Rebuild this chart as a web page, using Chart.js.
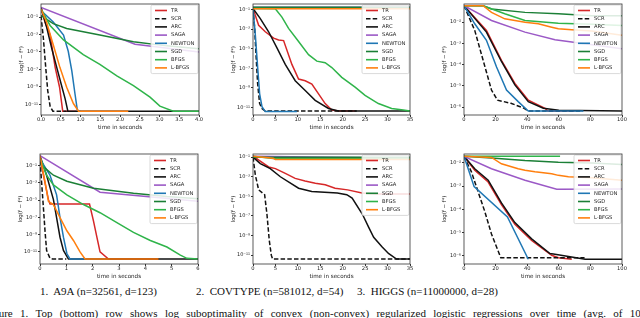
<!DOCTYPE html>
<html>
<head>
<meta charset="utf-8">
<script src="https://cdn.jsdelivr.net/npm/chart.js@4.4.1/dist/chart.umd.min.js"></script>
<style>
  html, body { margin: 0; padding: 0; background: #fff; width: 640px; height: 318px; overflow: hidden; position: relative; }
  canvas { position: absolute; }
  .cap { position: absolute; font-family: "Liberation Serif", "Times New Roman", serif; font-size: 11px; line-height: 11px; color: #111; white-space: nowrap; }
</style>
</head>
<body>
<div class="cap" style="left:40px;top:286px">1.&nbsp; A9A (n=32561, d=123)</div>
<div class="cap" style="left:196px;top:286px">2.&nbsp; COVTYPE (n=581012, d=54)</div>
<div class="cap" style="left:357px;top:286px">3.&nbsp; HIGGS (n=11000000, d=28)</div>
<div class="cap" style="left:-16px;top:308px;word-spacing:4.6px">Figure 1. Top (bottom) row shows log suboptimality of convex (non-convex) regularized logistic regressions over time (avg. of 10 runs).</div>

<script>
const methods = ['TR', 'SCR', 'ARC', 'SAGA', 'NEWTON', 'SGD', 'BFGS', 'L-BFGS'];
const colors = ['#d62728', '#111111', '#111111', '#9b59c6', '#1f77b4', '#1b7f36', '#2fb44a', '#ff7f0e'];
const titles = ['A9A convex', 'COVTYPE convex', 'HIGGS convex', 'A9A non-convex', 'COVTYPE non-convex', 'HIGGS non-convex'];

// [time in seconds, f - f*] pairs, one list per method (same order as methods)
const a9aConvex = [
  [[0,1.3],[0.1,0.028],[0.23,8.7e-4],[0.36,1.6e-7],[0.47,8.9e-10],[0.55,1.6e-12],[0.9,1.6e-12]],
  [[0,0.15],[0.06,3.7e-4],[0.12,1.6e-7],[0.17,3.7e-10],[0.23,6e-12],[0.3,1.6e-12],[0.65,1.6e-12]],
  [[0,1.3],[0.14,7.6e-3],[0.27,2.8e-5],[0.4,1.6e-7],[0.52,1.4e-9],[0.61,4.4e-11],[0.68,1.6e-12],[4,1.6e-12]],
  [[0,1.3],[2.38,7.8e-5],[4,9.8e-6]],
  [[0,0.56],[0.31,0.028],[0.57,8.7e-4],[0.69,1.2e-5],[0.78,6.6e-8],[0.86,1.6e-10],[0.92,2.1e-12],[1.0,1.6e-12]],
  [[0,0.15],[0.31,0.018],[0.65,4.9e-3],[1.49,8.7e-4],[2.34,1.5e-4],[3.18,5e-5],[4,2.3e-5]],
  [[0,0.87],[0.23,0.011],[0.57,2.4e-4],[1.07,4.9e-6],[1.49,3.7e-7],[1.92,1.8e-8],[2.34,1.4e-9],[2.76,6.6e-11],[3.01,6e-12],[3.35,1.6e-12],[4,1.6e-12]],
  [[0,0.87],[0.14,0.028],[0.31,6.6e-5],[0.48,1.6e-7],[0.65,8.9e-10],[0.82,1.2e-11],[0.95,1.6e-12],[2.21,1.6e-12]]
];
const covtypeConvex = [
  [[0,0.13],[1.26,2.5e-3],[2.74,5.4e-4],[4.6,1.2e-4],[5.71,7.9e-5],[6.82,6.8e-5],[8.67,2.5e-7],[10.16,7.9e-9],[11.64,5.4e-9],[13.12,2.5e-9],[16.09,2.5e-11],[17.57,5.4e-12],[19.05,4.3e-12],[22.76,4.3e-12]],
  [[0,0.13],[0.37,1.2e-3],[0.67,2.5e-6],[1.04,2.5e-9],[1.48,2.5e-11],[2.0,7.9e-12],[2.74,4.3e-12],[23.13,4.3e-12]],
  [[0,0.13],[1.63,0.012],[3.48,5.4e-4],[5.34,1.2e-5],[7.19,2.5e-7],[9.41,5.4e-9],[11.64,5.4e-10],[13.86,5.4e-11],[16.83,7.9e-12],[19.05,4.3e-12],[35,4.3e-12]],
  [[0,0.17],[35,0.17]],
  [[0,0.12],[0.52,2.5e-4],[1.04,1.2e-7],[1.48,2.5e-10],[2.0,1.2e-11],[2.74,3.8e-12],[9.79,3.8e-12]],
  [[0,0.17],[35,0.17]],
  [[0,0.13],[4.97,0.12],[6.45,0.017],[7.93,1.2e-3],[10.16,5.4e-5],[12.38,2.5e-6],[14.23,5.4e-7],[16.09,3.7e-7],[17.57,1.2e-7],[19.79,1.2e-8],[22.76,1.2e-9],[24.98,1.7e-10],[27.95,2.5e-11],[30.91,7.9e-12],[33.5,5.4e-12],[35,4.3e-12]],
  [[0,0.12],[35,0.12]]
];
const higgsConvex = [
  [[0,0.06],[14.2,4.1e-3],[23.7,1.6e-4],[32.2,1.3e-5],[40.7,2.1e-6],[51.3,8.7e-7],[53,6.5e-7],[70,6.5e-7]],
  [[0,0.06],[6.8,4.1e-3],[12.1,1.6e-4],[17.4,6.3e-6],[21.2,2.1e-6],[29.7,1.5e-6],[38.1,8.7e-7],[40.7,6.5e-7],[75,6.5e-7]],
  [[0,0.06],[14.2,3.4e-3],[23.7,1.4e-4],[32.2,1.1e-5],[40.7,1.8e-6],[50.2,8.7e-7],[60,7e-7],[100,6.5e-7]],
  [[0,0.06],[17.4,0.012],[38.6,3.4e-3],[57.6,1.5e-3],[100,5.6e-4]],
  [[0,0.06],[6.8,8.4e-3],[14.2,1.4e-3],[20.6,7.7e-5],[26.9,6.3e-6],[34.3,1.8e-6],[40.7,6.5e-7],[75.6,6.5e-7]],
  [[0,0.06],[12.1,0.06],[17.4,0.042],[38.6,0.029],[59.7,0.025],[80.9,0.02],[100,0.02]],
  [[0,0.06],[12.1,0.06],[25.8,0.025],[38.6,0.012],[59.7,9e-3],[80.9,8e-3],[100,7e-3]],
  [[0,0.06],[12.1,0.06],[17.4,0.029],[25.8,0.0144],[32.2,0.012],[38.6,0.01],[47,8.4e-3],[55.5,5.8e-3],[59.7,4.9e-3],[68.2,4.4e-3],[80.9,3.8e-3],[100,2.4e-3]]
];
const a9aNonconvex = [
  [[0,0.87],[0.13,7.4e-3],[0.32,1.1e-5],[0.38,3.5e-6],[1.88,3.5e-6],[2.03,3.8e-8],[2.16,5e-10],[2.28,1e-11],[2.6,1.5e-12],[4.5,1.5e-12]],
  [[0,0.37],[0.06,1.3e-3],[0.13,1.2e-6],[0.19,2.8e-9],[0.25,1.5e-11],[0.38,1.8e-12],[0.48,1.5e-12],[1.0,1.5e-12]],
  [[0,1.35],[0.25,7.4e-3],[0.51,1.1e-5],[0.63,9.2e-8],[0.76,5e-10],[0.89,1.5e-11],[1.08,1.5e-12],[6,1.5e-12]],
  [[0,1.35],[2.28,8.1e-5],[6,7.1e-6]],
  [[0,0.56],[0.38,7.4e-3],[0.63,4e-5],[0.76,9.2e-8],[0.89,5e-10],[1.02,6.5e-12],[1.14,1.5e-12],[1.71,1.5e-12]],
  [[0,0.15],[0.51,7.4e-3],[1.02,1.5e-3],[2.03,2.3e-4],[3.55,6.2e-5],[4.82,2.6e-5],[6,1.4e-5]],
  [[0,0.87],[0.25,7.4e-3],[0.51,5.5e-4],[1.02,4e-5],[1.65,3e-6],[2.28,3.4e-7],[2.92,2.5e-8],[3.55,1.8e-9],[4.19,2.1e-10],[4.82,3.7e-11],[5.33,4.2e-12],[5.58,1.8e-12],[6,1.5e-12]],
  [[0,1.35],[0.19,1.3e-3],[0.32,7.1e-6],[0.51,3e-6],[0.76,9.2e-8],[1.02,2.8e-9],[1.27,2.1e-10],[1.52,1e-11],[1.71,1.5e-12],[4.5,1.5e-12]]
];
const covtypeNonconvex = [
  [[0,0.126],[3.5,0.01],[5,6.8e-3],[7.2,2.2e-3],[9.4,6.8e-4],[11.6,3.7e-4],[13.9,2.2e-4],[16.1,1.5e-4],[18.3,6.8e-5],[21.1,4.6e-5],[24.3,2.2e-5],[27.3,1.7e-5],[35,1.7e-5]],
  [[0,0.1],[0.52,1.5e-3],[1.26,4.6e-5],[2.59,1.5e-5],[3.11,1.5e-7],[3.63,3.2e-10],[4.08,1e-11],[4.37,4e-12],[35,4e-12]],
  [[0,0.1],[1.63,0.022],[3.85,6.8e-3],[6.1,1e-3],[10.16,6.8e-5],[13.1,3.2e-5],[18.8,2.2e-5],[20.9,1.5e-5],[22.1,6.8e-6],[24.4,1.5e-7],[25.8,6.8e-9],[26.9,6.8e-10],[28.8,6.8e-11],[30.2,1.5e-11],[32,4e-12],[35,4e-12]],
  [[0,0.126],[35,0.079]],
  null,
  [[0,0.1],[35,0.1]],
  [[0,0.126],[5,0.068],[35,0.068]],
  [[0,0.126],[4.5,0.079],[5,0.057],[35,0.057]]
];
const higgsNonconvex = [
  [[0,0.019],[6.8,4.8e-3],[15.3,1.5e-3],[23.7,1.6e-4],[32.2,2.3e-5],[42.8,4.6e-6],[55.5,1.07e-6],[59.7,8.3e-7],[68.2,7.2e-7]],
  [[0,0.019],[4.7,4.1e-3],[8.9,5.8e-4],[13.1,8.3e-5],[17.4,8.7e-6],[23.3,8.3e-7],[76.3,8.3e-7]],
  [[0,0.019],[6.8,5.6e-3],[15.3,1.8e-3],[23.7,1.9e-4],[32.2,2.7e-5],[42.8,5.4e-6],[54.4,1.26e-6],[56.6,1.2e-6],[76.7,7.2e-7],[100,7.2e-7]],
  [[0,0.019],[17.4,5.6e-3],[38.6,1.8e-3],[58.7,7.3e-4],[100,7.5e-4]],
  [[0,0.019],[6.4,9.5e-4],[27.5,4.7e-5],[40.7,7.2e-7]],
  [[0,0.019],[17.4,0.016],[38.6,0.0126],[59.7,0.0107],[80.9,9.8e-3],[100,8.5e-3]],
  [[0,0.019],[60.8,0.019]],
  [[0,0.019],[17.4,0.017],[23.7,9.1e-3],[34.3,5.6e-3],[38.6,4.8e-3],[44.9,4.1e-3],[55.5,3.4e-3],[59.7,2.9e-3],[66.1,2.5e-3],[80.9,2.3e-3],[100,1.8e-3]]
];
const panelData = [a9aConvex, covtypeConvex, higgsConvex, a9aNonconvex, covtypeNonconvex, higgsNonconvex];

// axis ranges and tick labels
const xMax = [4, 35, 100, 6, 35, 100];
const xStep = [0.5, 5, 20, 1, 5, 20];
const yMin = [5.8e-13, 1.7e-12, 4.2e-7, 4e-13, 1.26e-12, 4.5e-7];
const yMax = [3.2, 0.37, 0.072, 2.1, 0.21, 0.024];
const decadeTicks2 = [1e-1, 1e-3, 1e-5, 1e-7, 1e-9, 1e-11];
const decadeTicks1 = [1e-2, 1e-3, 1e-4, 1e-5, 1e-6];
const yTicks = [decadeTicks2, decadeTicks2, decadeTicks1, decadeTicks2, decadeTicks2, decadeTicks1];

// plot area of each panel on the page: left, top, right, bottom
const boxes = [[41,2,199,115],[253,2,410,115],[464,2,622,115],[40,152,198,264],[253,152,410,264],[464,152,622,264]];

const FONT = '"DejaVu Sans", sans-serif';
const sup = {'-':'⁻','0':'⁰','1':'¹','2':'²','3':'³','4':'⁴','5':'⁵','6':'⁶','7':'⁷','8':'⁸','9':'⁹'};
const powLabel = v => '10' + String(Math.round(Math.log10(v))).split('').map(c => sup[c]).join('');

const frame = {
  id: 'frame',
  afterDraw(chart) {
    const {ctx, chartArea: a} = chart;
    ctx.save();
    ctx.strokeStyle = '#333';
    ctx.lineWidth = 0.8;
    ctx.strokeRect(a.left, a.top, a.right - a.left, a.bottom - a.top);
    ctx.restore();
  }
};

const legendBox = {
  id: 'legendBox',
  afterDatasetsDraw(chart) {
    const {ctx, chartArea: a} = chart;
    const items = chart.data.datasets;
    const w = 47, rowH = 8.2, h = items.length * rowH + 3;
    const x = a.right - w - 1, y = a.top + 1;
    ctx.save();
    ctx.fillStyle = 'rgba(255,255,255,0.85)';
    ctx.strokeStyle = '#cfcfcf';
    ctx.lineWidth = 0.8;
    ctx.beginPath();
    ctx.roundRect(x, y, w, h, 1.5);
    ctx.fill();
    ctx.stroke();
    items.forEach((d, i) => {
      const cy = y + 5.5 + i * rowH;
      ctx.strokeStyle = d.borderColor;
      ctx.lineWidth = 1.6;
      ctx.setLineDash(d.borderDash || []);
      ctx.beginPath();
      ctx.moveTo(x + 4, cy);
      ctx.lineTo(x + 16, cy);
      ctx.stroke();
      ctx.setLineDash([]);
      ctx.fillStyle = '#222';
      ctx.font = '5.2px ' + FONT;
      ctx.textBaseline = 'middle';
      ctx.fillText(d.label, x + 20, cy);
    });
    ctx.restore();
  }
};

panelData.forEach((series, p) => {
  const [L, T, R, B] = boxes[p];
  const cv = document.createElement('canvas');
  const w = R - L + 46, h = B - T + 2 + 16;
  cv.width = w; cv.height = h;
  cv.style.left = (L - 40) + 'px';
  cv.style.top = (T - 2) + 'px';
  cv.style.width = w + 'px';
  cv.style.height = h + 'px';
  document.body.appendChild(cv);

  const datasets = [];
  series.forEach((pts, i) => {
    if (!pts) return;
    datasets.push({
      label: methods[i],
      data: pts.map(([x, y]) => ({x, y})),
      borderColor: colors[i],
      borderWidth: 1.5,
      borderDash: methods[i] === 'SCR' ? [4.5, 2.2] : [],
      pointRadius: 0,
      tension: 0,
      fill: false,
      order: methods.length - i
    });
  });

  new Chart(cv, {
    type: 'line',
    data: {datasets},
    options: {
      responsive: false,
      animation: false,
      devicePixelRatio: 1,
      layout: {padding: {left: 0, top: 2, right: 6, bottom: 0}},
      plugins: {legend: {display: false}, tooltip: {enabled: false}, title: {display: false, text: titles[p]}},
      scales: {
        x: {
          type: 'linear', min: 0, max: xMax[p],
          afterFit: s => { s.height = 16; },
          ticks: {
            stepSize: xStep[p], autoSkip: false, maxRotation: 0, padding: 0,
            font: {family: FONT, size: 5.2}, color: '#222',
            callback: v => p === 0 ? v.toFixed(1) : String(v)
          },
          grid: {display: true, drawOnChartArea: false, tickLength: 2, color: '#333'},
          border: {display: false},
          title: {display: true, text: 'time in seconds', font: {family: FONT, size: 5.6}, color: '#222', padding: 0}
        },
        y: {
          type: 'logarithmic', min: yMin[p], max: yMax[p],
          afterFit: s => { s.width = 40; },
          afterBuildTicks: s => { s.ticks = yTicks[p].map(v => ({value: v})); },
          ticks: {
            autoSkip: false, padding: 1,
            font: {family: FONT, size: 5}, color: '#222',
            callback: v => powLabel(v)
          },
          grid: {display: true, drawOnChartArea: false, tickLength: 2, color: '#333'},
          border: {display: false},
          title: {display: true, text: 'log(f − f*)', font: {family: FONT, size: 5.4}, color: '#222', padding: {top: 17, bottom: 0}}
        }
      }
    },
    plugins: [legendBox, frame]
  });
});
</script>
</body>
</html>
